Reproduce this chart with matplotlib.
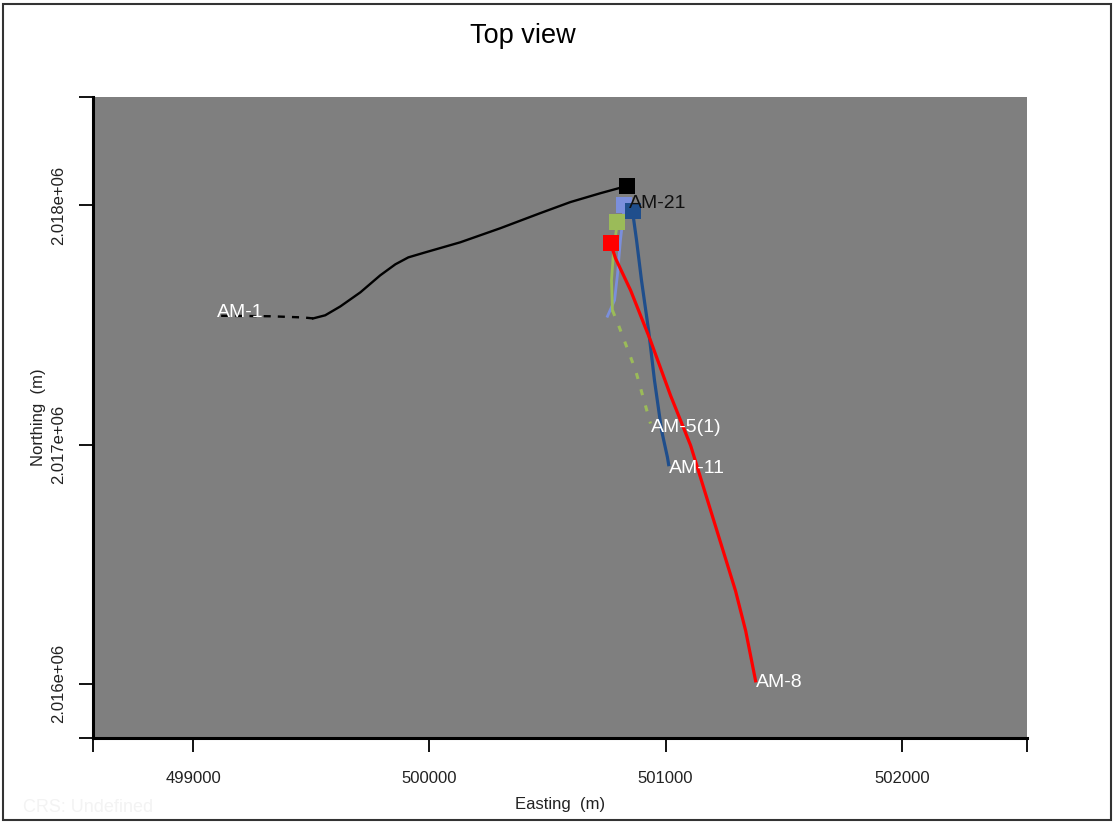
import matplotlib.pyplot as plt
from matplotlib.patches import Rectangle

plt.rcParams['font.family'] = ['Liberation Sans', 'DejaVu Sans']

# Trazas de pozos (Easting, Northing), desde el collar hacia el fondo
am1_x = [500835, 500724, 500597, 500470, 500301, 500131, 499983, 499911,
         499856, 499792, 499708, 499623, 499559, 499508]
am1_y = [2018080, 2018050, 2018013, 2017967, 2017904, 2017845, 2017803, 2017782,
         2017753, 2017707, 2017636, 2017577, 2017540, 2017527]
am1_dash_x = [499508, 499466, 499326, 499114]
am1_dash_y = [2017527, 2017531, 2017536, 2017538]

am21_x = [500826, 500809, 500796, 500784, 500754]
am21_y = [2018000, 2017854, 2017707, 2017603, 2017536]

am5_x = [500796, 500780, 500771, 500775]
am5_y = [2017929, 2017812, 2017686, 2017561]
am5_dash_x = [500775, 500801, 500873, 500936]
am5_dash_y = [2017561, 2017498, 2017310, 2017088]

am11_x = [500860, 500877, 500898, 500928, 500953, 500983, 501008, 501013]
am11_y = [2017975, 2017854, 2017686, 2017477, 2017268, 2017059, 2016946, 2016916]

am8_x = [500767, 500788, 500852, 500936, 501021, 501106, 501191, 501296, 501339, 501381]
am8_y = [2017841, 2017778, 2017644, 2017435, 2017205, 2016996, 2016724, 2016389, 2016222, 2016013]

x_ticks = [499000, 500000, 501000, 502000]
y_ticks = [2016000, 2017000, 2018000]
x_lim = (498576, 502530)
y_lim = (2015774, 2018452)

fig = plt.figure(figsize=(11.15, 8.23), dpi=100)
ax = fig.add_axes([93 / 1115, 1 - 738 / 823, 934 / 1115, 641 / 823])
ax.set_facecolor('#7f7f7f')

c_black, c_lblue, c_green, c_dblue, c_red = 'black', '#7b8fdc', '#9bbb59', '#1f4e8c', '#ff0000'

# trazas
ax.plot(am1_x, am1_y, color=c_black, lw=1.7, zorder=2)
ax.plot(am1_dash_x, am1_dash_y, color=c_black, lw=1.7, ls=(0, (3, 3)), zorder=2)
ax.plot(am21_x, am21_y, color=c_lblue, lw=2, zorder=2)
ax.plot(am5_x, am5_y, color=c_green, lw=2, zorder=2)
ax.plot(am5_dash_x, am5_dash_y, color=c_green, lw=2.2, ls=(0, (2, 3.5)), zorder=2)
ax.plot(am11_x, am11_y, color=c_dblue, lw=2.3, zorder=2)
ax.plot(am8_x, am8_y, color=c_red, lw=2.3, zorder=2)

# collares
for xs, ys, c in [(am21_x, am21_y, c_lblue), (am5_x, am5_y, c_green),
                  (am11_x, am11_y, c_dblue), (am8_x, am8_y, c_red),
                  (am1_x, am1_y, c_black)]:
    ax.plot(xs[0], ys[0], marker='s', ms=11, mew=0, color=c, zorder=3)

# etiquetas
lab = dict(fontsize=14, ha='left', va='center', zorder=4)
ax.annotate('AM-1', (am1_dash_x[-1], am1_dash_y[-1]), xytext=(-2, 2),
            textcoords='offset points', color='white', **lab)
ax.annotate('AM-21', (am21_x[0], am21_y[0]), xytext=(3, 1),
            textcoords='offset points', color='#111111', **lab)
ax.annotate('AM-5(1)', (am5_dash_x[-1], am5_dash_y[-1]), xytext=(0, -3),
            textcoords='offset points', color='white', **lab)
ax.annotate('AM-11', (am11_x[-1], am11_y[-1]), xytext=(0, -3),
            textcoords='offset points', color='white', **lab)
ax.annotate('AM-8', (am8_x[-1], am8_y[-1]), xytext=(0, -1),
            textcoords='offset points', color='white', **lab)

ax.set_xlim(x_lim)
ax.set_ylim(y_lim)
ax.set_xticks(x_ticks)
ax.set_xticklabels([str(v) for v in x_ticks])
ax.set_yticks(y_ticks)
ax.set_yticklabels([f'{v:.3e}' for v in y_ticks], rotation=90, va='center')
ax.set_xticks(list(x_lim), minor=True)
ax.set_yticks(list(y_lim), minor=True)

for s in ['top', 'right']:
    ax.spines[s].set_visible(False)
for s in ['left', 'bottom']:
    ax.spines[s].set_linewidth(2.2)
ax.tick_params(which='both', direction='out', length=10, width=1.3, color='black')
ax.tick_params(axis='x', which='major', pad=14, labelsize=12, labelcolor='#222222')
ax.tick_params(axis='y', which='major', pad=9, labelsize=12, labelcolor='#222222')

fig.text(523 / 1115, 1 - 36 / 823, 'Top view', fontsize=19.5, ha='center', va='center')
fig.text(560 / 1115, 1 - 805 / 823, 'Easting  (m)', fontsize=12, ha='center', va='center',
         color='#222222')
fig.text(38 / 1115, 1 - 417 / 823, 'Northing  (m)', fontsize=12, ha='center', va='center',
         rotation=90, color='#222222')
fig.text(23 / 1115, 1 - 807 / 823, 'CRS: Undefined', fontsize=13, ha='left', va='center',
         color='#f3f3f3')

# marco
fig.patches.append(Rectangle((3 / 1115, 3 / 823), 1108 / 1115, 816 / 823,
                             transform=fig.transFigure, fill=False,
                             edgecolor='#333333', lw=1.5))

fig.savefig('out.png', dpi=100)
